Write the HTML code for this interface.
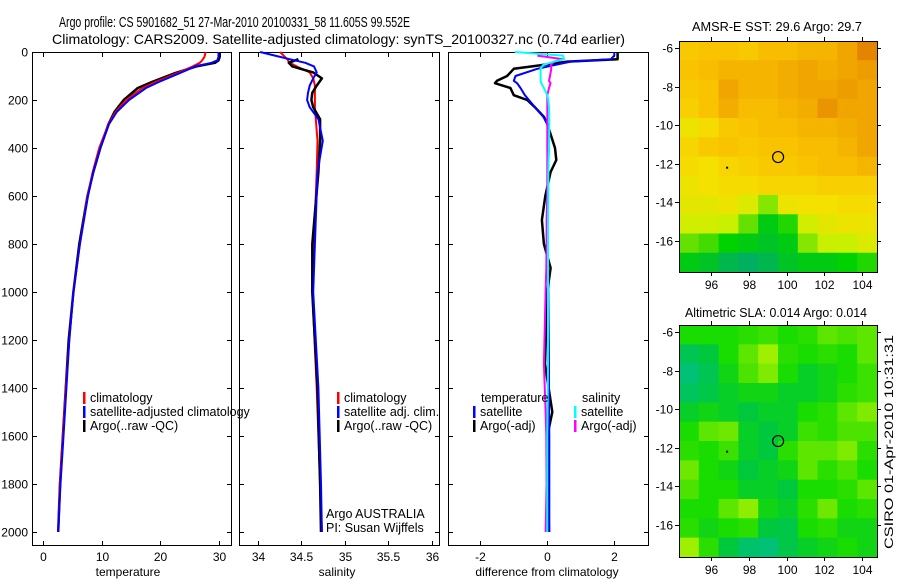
<!DOCTYPE html>
<html><head><meta charset="utf-8"><style>
body{margin:0;background:#fff;}
svg{display:block;font-family:"Liberation Sans",Arial,sans-serif;}
</style></head><body>
<svg id="c" width="900" height="580" xmlns="http://www.w3.org/2000/svg">
<text x="59" y="27" font-size="14.5" textLength="351" lengthAdjust="spacingAndGlyphs">Argo profile: CS 5901682_51 27-Mar-2010 20100331_58 11.605S 99.552E</text>
<text x="52" y="44" font-size="14" textLength="573" lengthAdjust="spacingAndGlyphs">Climatology: CARS2009. Satellite-adjusted climatology: synTS_20100327.nc (0.74d earlier)</text>
<text x="692" y="31" font-size="12.5" textLength="170" lengthAdjust="spacingAndGlyphs">AMSR-E SST: 29.6  Argo: 29.7</text>
<text x="685" y="317" font-size="12.5" textLength="182" lengthAdjust="spacingAndGlyphs">Altimetric SLA: 0.014  Argo: 0.014</text>
<text transform="translate(893,442) rotate(-90)" font-size="12" text-anchor="middle" textLength="214" lengthAdjust="spacingAndGlyphs">CSIRO 01-Apr-2010 10:31:31</text>
<g id="g"></g>
</svg>
<script>
// ---- profile data ----
const depthT = [0, 20, 35, 45, 60, 88, 125, 150, 200, 250, 300, 400, 500, 600, 800, 1000, 1200, 1400, 1600, 1800, 2000];
const tempClim = [27.8, 27.6, 27.2, 26.8, 25.6, 23.0, 19.2, 17.0, 14.2, 12.4, 11.2, 9.6, 8.5, 7.6, 6.3, 5.2, 4.5, 3.9, 3.4, 2.9, 2.6];
const tempSat  = [30.0, 30.0, 29.8, 28.8, 26.0, 23.4, 19.8, 17.6, 14.7, 12.6, 11.3, 9.8, 8.6, 7.7, 6.3, 5.2, 4.5, 4.0, 3.5, 3.0, 2.6];
const tempArgo = [30.2, 30.2, 30.0, 29.4, 26.2, 22.6, 18.6, 16.2, 13.8, 12.2, 11.2, 9.8, 8.6, 7.6, 6.2, 5.2, 4.4, 3.9, 3.4, 2.9, 2.6];

const depthS = [0, 15, 30, 45, 60, 85, 110, 140, 170, 200, 230, 280, 370, 500, 800, 1000, 1400, 1800, 2000];
const salClim = [34.26, 34.30, 34.34, 34.37, 34.45, 34.60, 34.64, 34.66, 34.66, 34.66, 34.66, 34.67, 34.69, 34.68, 34.65, 34.63, 34.68, 34.72, 34.74];
const salSat  = [34.03, 34.20, 34.37, 34.55, 34.65, 34.68, 34.64, 34.60, 34.58, 34.57, 34.60, 34.70, 34.75, 34.69, 34.66, 34.64, 34.70, 34.73, 34.74];
const salArgo = [null, null, 34.47, 34.36, 34.40, 34.64, 34.74, 34.68, 34.63, 34.62, 34.64, 34.72, 34.72, 34.70, 34.63, 34.63, 34.69, 34.72, 34.73];

const depthD = [0, 15, 30, 40, 55, 70, 100, 120, 130, 150, 180, 200, 230, 270, 300, 400, 450, 500, 600, 700, 800, 900, 1000, 1300, 1500, 1600, 1800, 2000];
const dTempSat  = [2.0, 2.0, 1.9, 0.7, 0.2, -0.3, -0.95, -1.0, -0.9, -0.8, -0.67, -0.55, -0.37, -0.12, 0.0, 0.05, 0.03, 0.02, 0.0, 0.0, 0.0, 0.02, 0.03, 0.05, 0.05, 0.06, 0.06, 0.06];
const dTempArgo = [2.1, 2.1, 2.1, 0.6, -0.2, -1.0, -1.2, -1.5, -1.56, -1.1, -1.0, -0.6, -0.37, -0.1, 0.0, 0.23, 0.27, 0.1, -0.06, -0.16, -0.1, 0.1, 0.0, -0.07, 0.15, 0.0, 0.02, 0.05];
const dSalSat   = [-0.97, 0.47, 0.5, 0.2, -0.13, -0.2, -0.2, -0.2, -0.18, -0.1, 0.0, 0.03, 0.05, 0.06, 0.06, 0.05, 0.04, 0.03, 0.03, 0.02, 0.02, 0.02, 0.02, 0.02, 0.01, 0.0, 0.0, 0.0];
const dSalArgo  = [null, -0.3, 0.47, 0.2, 0.1, 0.12, 0.08, 0.05, 0.1, 0.05, 0.0, 0.0, 0.0, 0.0, 0.0, 0.0, 0.0, 0.0, 0.0, -0.02, -0.02, -0.03, -0.05, -0.1, -0.05, -0.03, -0.02, -0.05];

const depthTicks = [0, 200, 400, 600, 800, 1000, 1200, 1400, 1600, 1800, 2000];
const tempTicks = [0, 10, 20, 30];
const salTicks = [34, 34.5, 35, 35.5, 36];
const diffTicks = [-2, 0, 2];

// ---- map data (rows lat -6..-17, cols lon ~94.8..104.3) ----
const lonTicks = [96, 98, 100, 102, 104];
const latTicks = [-6, -8, -10, -12, -14, -16];
const sstGrid = [
 [29.5,29.6,29.6,29.5,29.7,29.7,29.8,29.8,30.0,30.4],
 [29.6,29.7,29.8,29.8,29.8,29.9,30.0,29.9,30.0,30.1],
 [29.5,29.6,30.0,29.8,29.8,29.9,30.0,30.0,30.1,30.0],
 [29.4,29.6,29.9,29.7,29.7,29.8,29.9,30.2,30.0,30.0],
 [29.0,29.2,29.5,29.6,29.7,29.7,29.8,29.8,29.9,30.0],
 [29.3,29.5,29.6,29.5,29.6,29.6,29.7,29.7,29.8,30.0],
 [29.2,29.1,29.3,29.4,29.5,29.5,29.6,29.7,29.7,29.8],
 [29.0,29.1,29.2,29.2,29.3,29.3,29.3,29.4,29.4,29.4],
 [28.9,28.9,29.0,28.8,28.4,29.0,29.1,29.1,29.2,29.2],
 [28.7,28.7,28.6,28.3,27.9,28.1,28.7,28.9,29.0,29.0],
 [28.3,28.2,28.0,27.9,27.8,27.9,28.4,28.6,28.6,28.8],
 [27.9,27.8,27.6,27.5,27.6,27.8,27.9,27.9,28.0,28.1]
];
const slaGrid = [
 [0.0,0.0,0.0,0.1,0.2,0.0,0.1,0.4,0.3,0.4],
 [-0.5,-0.3,0.0,0.4,0.8,0.1,0.0,0.1,0.0,0.4],
 [-0.8,-0.5,-0.1,0.3,0.6,0.0,-0.2,-0.1,0.0,0.2],
 [-0.6,-0.4,-0.2,-0.1,-0.1,-0.2,-0.2,-0.1,0.1,0.2],
 [-0.2,-0.1,-0.2,-0.3,-0.2,-0.2,0.0,0.1,0.4,0.6],
 [0.0,0.4,0.5,-0.2,-0.3,-0.2,0.2,0.1,0.3,0.3],
 [0.1,0.0,0.2,-0.2,-0.3,0.1,0.4,0.4,0.6,0.1],
 [0.5,0.0,-0.1,-0.3,-0.2,-0.1,0.4,0.1,0.3,0.0],
 [0.3,0.0,0.0,-0.2,-0.2,-0.3,0.0,0.0,0.1,0.4],
 [0.0,0.0,0.4,0.7,-0.1,-0.2,0.1,0.5,0.0,0.1],
 [0.1,-0.1,0.0,0.1,-0.3,-0.4,0.0,0.1,-0.1,-0.1],
 [0.8,0.1,-0.3,-0.7,-0.8,-0.4,-0.2,-0.1,0.0,-0.1]
];

const NS = 'http://www.w3.org/2000/svg';
const G = document.getElementById('g');
function mk(tag, attrs, parent) {
  const e = document.createElementNS(NS, tag);
  for (const k in attrs) e.setAttribute(k, attrs[k]);
  (parent || G).appendChild(e);
  return e;
}
function txt(x, y, s, size, anchor, parent) {
  const t = mk('text', {x: x, y: y, 'font-size': size, 'text-anchor': anchor || 'start'}, parent);
  t.textContent = s;
  return t;
}

const yTop = 52, yBot = 545;
function yD(d) { return 52 + d * 0.24; }
const panels = [
  {name:'temperature', x0:32, x1:231, fx: v => 43 + v * 5.85, ticks: tempTicks, title:'temperature', tx:128},
  {name:'salinity', x0:239, x1:439, fx: v => 257.5 + (v - 34) * 87, ticks: salTicks, title:'salinity', tx:337},
  {name:'difference', x0:448, x1:648, fx: v => 547.3 + v * 33.5, ticks: diffTicks, title:'difference from climatology', tx:547}
];
panels.forEach((p, i) => {
  const pg = mk('g', {});
  
  
  const fr = mk('rect', {x:p.x0+0.5, y:yTop+0.5, width:p.x1-p.x0, height:yBot-yTop, fill:'none', stroke:'#000', 'stroke-width':1}, pg);
  
  
  depthTicks.forEach(d => {
    const y = Math.round(yD(d)) + 0.5;
    mk('line', {x1:p.x0, x2:p.x0+5, y1:y, y2:y, stroke:'#000'}, pg);
    mk('line', {x1:p.x1-4, x2:p.x1+1, y1:y, y2:y, stroke:'#000'}, pg);
    if (i === 0) {
      const t = txt(28, y + 4, String(d), 12, 'end', pg);
      
      
    }
  });
  p.ticks.forEach(v => {
    const x = Math.round(p.fx(v)) + 0.5;
    mk('line', {x1:x, x2:x, y1:yTop, y2:yTop+5, stroke:'#000'}, pg);
    mk('line', {x1:x, x2:x, y1:yBot-4, y2:yBot+1, stroke:'#000'}, pg);
    const t = txt(x, 561, String(v), 12, 'middle', pg);
    
    
  });
  const at = txt(p.tx, 576, p.title, 12, 'middle', pg);
  
  
});

function line(depths, vals, fx, color, name, w) {
  let pts = [];
  depths.forEach((d, i) => { if (vals[i] !== null) pts.push(fx(vals[i]).toFixed(1) + ',' + yD(d).toFixed(1)); });
  const pl = mk('polyline', {points: pts.join(' '), fill:'none', stroke:color, 'stroke-width': w || 2, 'stroke-linejoin':'round'});
  
  
}
line(depthT, tempArgo, panels[0].fx, '#000', 'temp-argo-line', 2.5);
line(depthT, tempClim, panels[0].fx, '#f00', 'temp-climatology-line');
line(depthT, tempSat, panels[0].fx, '#00f', 'temp-satellite-line');
line(depthS, salClim, panels[1].fx, '#f00', 'salinity-climatology-line');
line(depthS, salArgo, panels[1].fx, '#000', 'salinity-argo-line', 2.5);
line(depthS, salSat, panels[1].fx, '#00f', 'salinity-satellite-line');
line(depthD, dTempArgo, panels[2].fx, '#000', 'diff-temp-argo-line', 2.5);
line(depthD, dTempSat, panels[2].fx, '#00f', 'diff-temp-satellite-line');
line(depthD, dSalArgo, panels[2].fx, '#f0f', 'diff-sal-argo-line');
line(depthD, dSalSat, panels[2].fx, '#0ff', 'diff-sal-satellite-line');

function legend(x, y, color, label, name) {
  const lg = mk('g', {});
  
  
  if (color) mk('rect', {x:x, y:y-10, width:2.5, height:12, fill:color}, lg);
  txt(x + 7, y, label, 12.5, 'start', lg);
}
legend(83, 402, '#f00', 'climatology', 'legend-climatology');
legend(83, 416, '#00f', 'satellite-adjusted climatology', 'legend-satellite-adjusted');
legend(83, 430, '#000', 'Argo(..raw -QC)', 'legend-argo-raw');
legend(337, 402, '#f00', 'climatology', 'legend-sal-climatology');
legend(337, 416, '#00f', 'satellite adj. clim.', 'legend-sal-satellite');
legend(337, 430, '#000', 'Argo(..raw -QC)', 'legend-sal-argo');
legend(474, 402, null, 'temperature', 'legend-diff-temperature-header');
legend(473, 416, '#00f', 'satellite', 'legend-diff-temp-satellite');
legend(473, 430, '#000', 'Argo(-adj)', 'legend-diff-temp-argo');
legend(575, 402, null, 'salinity', 'legend-diff-salinity-header');
legend(574, 416, '#0ff', 'satellite', 'legend-diff-sal-satellite');
legend(574, 430, '#f0f', 'Argo(-adj)', 'legend-diff-sal-argo');
const cr = txt(326, 518, 'Argo AUSTRALIA', 12.5, 'start');


const pi = txt(326, 532, 'PI: Susan Wijffels', 12.5, 'start');



// ---- maps ----
function colorOf(stops, v) {
  if (v <= stops[0][0]) return 'rgb(' + stops[0][1].join(',') + ')';
  for (let i = 1; i < stops.length; i++) {
    if (v <= stops[i][0]) {
      const a = stops[i-1], b = stops[i], t = (v - a[0]) / (b[0] - a[0]);
      const c = a[1].map((q, k) => Math.round(q + (b[1][k] - q) * t));
      return 'rgb(' + c.join(',') + ')';
    }
  }
  return 'rgb(' + stops[stops.length-1][1].join(',') + ')';
}
const sstStops = [[27.5,[0,176,96]],[28.0,[0,210,0]],[28.6,[200,240,0]],[29.1,[245,225,0]],[29.6,[250,195,0]],[30.0,[240,165,0]],[30.5,[225,125,0]]];
const slaStops = [[-1,[0,190,140]],[-0.3,[0,200,60]],[0,[25,220,0]],[0.5,[110,232,0]],[1,[190,245,0]]];

function drawMap(name, y0, y1, grid, stops) {
  const x0 = 679, x1 = 877;
  const fx = lon => 711 + (lon - 96) * 18.9;
  const lat0 = -6, ly0 = y0 + 7;
  const fy = lat => ly0 + (lat0 - lat) * 19.3;
  const mg = mk('g', {});
  
  
  const rows = grid.length, cols = grid[0].length;
  const cw = (x1 - x0) / cols, rh = (y1 - y0) / rows;
  for (let r = 0; r < rows; r++) for (let c = 0; c < cols; c++) {
    const cell = mk('rect', {x:(x0 + c*cw).toFixed(2), y:(y0 + r*rh).toFixed(2), width:(cw+0.6).toFixed(2), height:(rh+0.6).toFixed(2), fill: colorOf(stops, grid[r][c])}, mg);
    
    
  }
  mk('rect', {x:x0+0.5, y:y0+0.5, width:x1-x0, height:y1-y0, fill:'none', stroke:'#000'}, mg);
  lonTicks.forEach(l => {
    const x = Math.round(fx(l)) + 0.5;
    mk('line', {x1:x, x2:x, y1:y0-4, y2:y0, stroke:'#000'}, mg);
    mk('line', {x1:x, x2:x, y1:y1, y2:y1+4, stroke:'#000'}, mg);
    const t = txt(x, y1 + 17, String(l), 12, 'middle', mg);
    
    
  });
  latTicks.forEach(l => {
    const y = Math.round(fy(l)) + 0.5;
    mk('line', {x1:x0-4, x2:x0, y1:y, y2:y, stroke:'#000'}, mg);
    mk('line', {x1:x1, x2:x1+4, y1:y, y2:y, stroke:'#000'}, mg);
    const t = txt(673, y + 4, String(l), 12, 'end', mg);
    
    
  });
  const ci = mk('circle', {cx: fx(99.55), cy: fy(-11.65), r:5.5, fill:'none', stroke:'#000', 'stroke-width':1.2}, mg);
  
  
  mk('rect', {x: fx(96.8), y: fy(-12.15), width:2, height:2, fill:'#000'}, mg);
}
drawMap('sst-map', 41, 272, sstGrid, sstStops);
drawMap('sla-map', 325, 557, slaGrid, slaStops);
</script>
</body></html>
